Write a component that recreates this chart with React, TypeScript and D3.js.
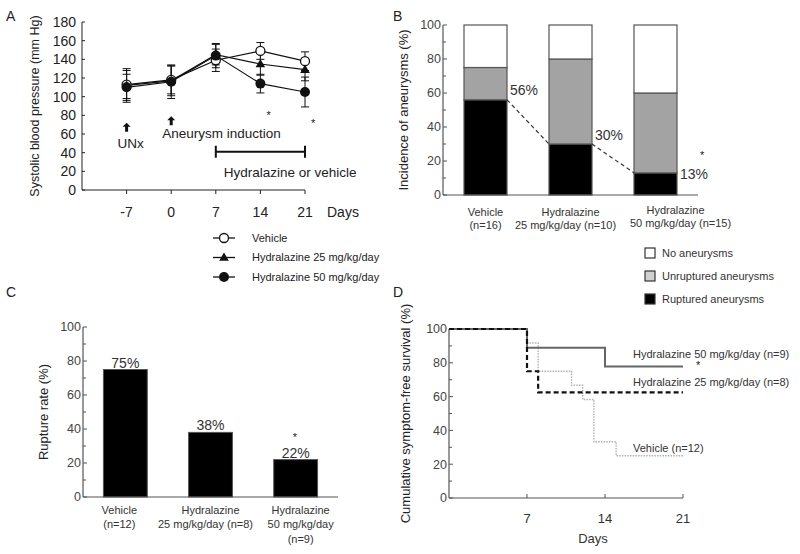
import React from "react";
import * as d3 from "d3";

// Panel A: systolic blood pressure
const bpDays = [-7, 0, 7, 14, 21];
const vehicleBP = [113, 118, 139, 149, 138];
const vehicleSD = [15, 15, 12, 9, 10];
const h25BP = [112, 117, 145, 135, 129];
const h25SD = [18, 16, 11, 12, 12];
const h50BP = [110, 116, 144, 114, 105];
const h50SD = [14, 18, 13, 10, 16];
const bpTicks = [0, 20, 40, 60, 80, 100, 120, 140, 160, 180];
const bpLegend = ["Vehicle", "Hydralazine 25 mg/kg/day", "Hydralazine 50 mg/kg/day"];

// Panel B: incidence of aneurysms
const incGroups = ["veh", "h25", "h50"];
const incLabels = [
  ["Vehicle", "(n=16)"],
  ["Hydralazine", "25 mg/kg/day (n=10)"],
  ["Hydralazine", "50 mg/kg/day (n=15)"],
];
const ruptured = [56, 30, 13];
const unruptured = [19, 50, 47];
const noAneurysm = [25, 20, 40];
const incLegend = ["No aneurysms", "Unruptured aneurysms", "Ruptured aneurysms"];

// Panel C: rupture rate
const rupGroups = ["veh", "h25", "h50"];
const rupLabels = [
  ["Vehicle", "(n=12)"],
  ["Hydralazine", "25 mg/kg/day (n=8)"],
  ["Hydralazine", "50 mg/kg/day", "(n=9)"],
];
const ruptureRate = [75, 38, 22];

// Panel D: symptom-free survival
const vehDays = [0, 7, 8, 11, 12, 13, 15, 21];
const vehSurv = [100, 91.7, 75, 66.7, 58.3, 33.3, 25, 25];
const h25Days = [0, 7, 8, 21];
const h25Surv = [100, 75, 62.5, 62.5];
const h50Days = [0, 7, 14, 21];
const h50Surv = [100, 88.9, 77.8, 77.8];
const survLabels = ["Hydralazine 50 mg/kg/day (n=9)", "Hydralazine 25 mg/kg/day (n=8)", "Vehicle (n=12)"];
const pctTicks = [0, 20, 40, 60, 80, 100];
const pctMinor = [10, 30, 50, 70, 90];

const FONT = "'Liberation Sans', Arial, sans-serif";
const TXT = "#222";

function Arrow({ x, y }: { x: number; y: number }) {
  // small thick upward arrow, tip at (x, y)
  return (
    <path
      d={`M${x},${y} L${x - 4},${y + 4} L${x - 1.5},${y + 4} L${x - 1.5},${y + 9} L${x + 1.5},${y + 9} L${x + 1.5},${y + 4} L${x + 4},${y + 4} Z`}
      fill="#111"
    />
  );
}

function PanelA() {
  const x = d3.scaleLinear().domain([-14, 21]).range([82, 305]);
  const y = d3.scaleLinear().domain([0, 180]).range([190, 22]);
  const line = d3.line<number>().x((_, i) => x(bpDays[i])).y((d) => y(d));
  const series = [
    { v: vehicleBP, sd: vehicleSD, m: "open" },
    { v: h25BP, sd: h25SD, m: "tri" },
    { v: h50BP, sd: h50SD, m: "dot" },
  ];
  const marker = (m: string, cx: number, cy: number, key: any) => {
    if (m === "open") return <circle key={key} cx={cx} cy={cy} r={4.5} fill="#fff" stroke="#111" strokeWidth={1.3} />;
    if (m === "tri") {
      const s = d3.symbol(d3.symbolTriangle, 40)();
      return <path key={key} d={s || ""} transform={`translate(${cx},${cy + 0.5})`} fill="#111" />;
    }
    return <circle key={key} cx={cx} cy={cy} r={5} fill="#111" />;
  };
  return (
    <g fontFamily={FONT} fill={TXT}>
      <text x={6} y={21} fontSize={14}>A</text>
      <text transform={`translate(39,106) rotate(-90)`} textAnchor="middle" fontSize={12.5}>
        Systolic blood pressure (mm Hg)
      </text>
      <line x1={82} x2={82} y1={y(180)} y2={y(0)} stroke="#222" />
      <line x1={82} x2={305} y1={y(0)} y2={y(0)} stroke="#222" />
      {bpTicks.map((t) => (
        <g key={t}>
          <line x1={82} x2={85} y1={y(t)} y2={y(t)} stroke="#222" />
          <text x={76} y={y(t)} dy="0.35em" textAnchor="end" fontSize={14}>{t}</text>
        </g>
      ))}
      {bpDays.map((d) => (
        <g key={d}>
          <line x1={x(d)} x2={x(d)} y1={y(0)} y2={y(0) + 4} stroke="#222" />
          <text x={x(d)} y={217} textAnchor="middle" fontSize={14}>{d}</text>
        </g>
      ))}
      <text x={x(21) + 22} y={217} fontSize={14}>Days</text>
      {series.map((s, si) => (
        <g key={si}>
          {s.v.map((v, i) => (
            <g key={i} stroke="#111" strokeWidth={1}>
              <line x1={x(bpDays[i])} x2={x(bpDays[i])} y1={y(v - s.sd[i])} y2={y(v + s.sd[i])} />
              <line x1={x(bpDays[i]) - 4} x2={x(bpDays[i]) + 4} y1={y(v + s.sd[i])} y2={y(v + s.sd[i])} />
              <line x1={x(bpDays[i]) - 4} x2={x(bpDays[i]) + 4} y1={y(v - s.sd[i])} y2={y(v - s.sd[i])} />
            </g>
          ))}
        </g>
      ))}
      {series.map((s, si) => (
        <path key={si} d={line(s.v) || ""} fill="none" stroke="#111" strokeWidth={1.2} />
      ))}
      {series.map((s, si) => (
        <g key={si}>{s.v.map((v, i) => marker(s.m, x(bpDays[i]), y(v), i))}</g>
      ))}
      <text x={x(14) + 6} y={y(80) + 4} fontSize={11}>*</text>
      <text x={x(21) + 6} y={y(72) + 4} fontSize={11}>*</text>
      <Arrow x={x(-7)} y={y(72)} />
      <text x={x(-7) + 4} y={y(50) + 5} textAnchor="middle" fontSize={13.5}>UNx</text>
      <Arrow x={x(0)} y={y(79)} />
      <text x={x(0) - 9} y={y(61) + 5} fontSize={13.5}>Aneurysm induction</text>
      <g stroke="#111" strokeWidth={2}>
        <line x1={x(7)} x2={x(21)} y1={y(41)} y2={y(41)} />
        <line x1={x(7)} x2={x(7)} y1={y(41) - 6} y2={y(41) + 6} />
        <line x1={x(21)} x2={x(21)} y1={y(41) - 6} y2={y(41) + 6} />
      </g>
      <text x={x(7) + 8} y={y(19) + 5} fontSize={13.5}>Hydralazine or vehicle</text>
      {bpLegend.map((l, i) => {
        const ly = 238 + i * 19.5;
        return (
          <g key={l}>
            <line x1={213} x2={235} y1={ly} y2={ly} stroke="#111" strokeWidth={1.3} />
            {marker(series[i].m, 224, ly, "m")}
            <text x={252} y={ly} dy="0.35em" fontSize={11}>{l}</text>
          </g>
        );
      })}
    </g>
  );
}

function PctAxis({ x0, y, label, lx }: { x0: number; y: d3.ScaleLinear<number, number>; label: string; lx: number }) {
  return (
    <g>
      <line x1={x0} x2={x0} y1={y(100)} y2={y(0)} stroke="#555" strokeWidth={1.2} />
      {pctTicks.map((t) => (
        <g key={t}>
          <line x1={x0} x2={x0 + 4} y1={y(t)} y2={y(t)} stroke="#555" />
          <text x={x0 - 2} y={y(t)} dy="0.35em" textAnchor="end" fontSize={12.5} fill="#444">{t}</text>
        </g>
      ))}
      {pctMinor.map((t) => (
        <line key={t} x1={x0} x2={x0 + 3} y1={y(t)} y2={y(t)} stroke="#555" />
      ))}
      <text transform={`translate(${lx},${(y(0) + y(100)) / 2}) rotate(-90)`} textAnchor="middle" fontSize={13}>
        {label}
      </text>
    </g>
  );
}

function PanelB() {
  const x = d3.scaleBand().domain(incGroups).range([443, 698]).paddingInner(0.494).paddingOuter(0.247);
  const y = d3.scaleLinear().domain([0, 100]).range([195, 25]);
  const rows = incGroups.map((g, i) => ({ g, rup: ruptured[i], unr: unruptured[i], none: noAneurysm[i] }));
  const stack = d3.stack<any>().keys(["rup", "unr", "none"])(rows);
  const fills = ["#000", "#a3a3a3", "#fff"];
  const bw = x.bandwidth();
  const labelDx = [0, 0, 22];
  return (
    <g fontFamily={FONT} fill={TXT}>
      <text x={393} y={21} fontSize={14}>B</text>
      {stack.map((layer, li) =>
        layer.map((d, i) => (
          <rect key={`${li}-${i}`} x={x(incGroups[i])} y={y(d[1])} width={bw} height={y(d[0]) - y(d[1])}
            fill={fills[li]} stroke="#555" strokeWidth={1.2} />
        ))
      )}
      <PctAxis x0={443} y={y} label="Incidence of  aneurysms (%)" lx={408} />
      <line x1={443} x2={698} y1={y(0)} y2={y(0)} stroke="#555" strokeWidth={1.2} />
      <path
        d={`M${x("veh")! + bw},${y(ruptured[0])} L${x("h25")!},${y(ruptured[1])} M${x("h25")! + bw},${y(ruptured[1])} L${x("h50")!},${y(ruptured[2])}`}
        stroke="#333" strokeDasharray="4,3" fill="none" strokeWidth={1.2}
      />
      {ruptured.map((r, i) => {
        const lys = [y(r) - 10, y(r) - 9, y(r) + 1];
        return (
          <text key={i} x={x(incGroups[i])! + bw + 3} y={lys[i]} dy="0.35em" fontSize={14} fill="#333">{r}%</text>
        );
      })}
      <text x={700} y={159} fontSize={11}>*</text>
      {incLabels.map((ls, i) => (
        <g key={i}>
          {ls.map((l, j) => (
            <text key={j} x={x(incGroups[i])! + bw / 2 + (i === 2 ? labelDx[i] - (j === 0 ? 2 : -3) : i === 1 && j === 1 ? -5 : 0)}
              y={212 + j * 13.5 - (i === 2 ? 2 : 0)} dy="0.35em" textAnchor="middle" fontSize={11} fill="#333">{l}</text>
          ))}
        </g>
      ))}
      {incLegend.map((l, i) => {
        const ly = 253 + i * 23;
        return (
          <g key={l}>
            <rect x={645} y={ly - 5} width={10} height={10} fill={["#fff", "#d0d0d0", "#000"][i]} stroke="#333" strokeWidth={1.2} />
            <text x={662} y={ly} dy="0.35em" fontSize={11} fill="#333">{l}</text>
          </g>
        );
      })}
    </g>
  );
}

function PanelC() {
  const x = d3.scaleBand().domain(rupGroups).range([83, 338]).paddingInner(0.485).paddingOuter(0.24);
  const y = d3.scaleLinear().domain([0, 100]).range([497, 327]);
  const bw = x.bandwidth();
  return (
    <g fontFamily={FONT} fill={TXT}>
      <text x={6} y={297} fontSize={14}>C</text>
      {ruptureRate.map((v, i) => (
        <rect key={i} x={x(rupGroups[i])} y={y(v)} width={bw} height={y(0) - y(v)} fill="#000" stroke="#555" />
      ))}
      <PctAxis x0={83} y={y} label="Rupture rate (%)" lx={48} />
      <line x1={83} x2={338} y1={y(0)} y2={y(0)} stroke="#555" strokeWidth={1.2} />
      {ruptureRate.map((v, i) => (
        <text key={i} x={x(rupGroups[i])! + bw / 2} y={y(v) - 2} textAnchor="middle" fontSize={14} fill="#333">{v}%</text>
      ))}
      <text x={x("h50")! + bw / 2 - 3} y={y(22) - 19} fontSize={11}>*</text>
      {rupLabels.map((ls, i) => (
        <g key={i}>
          {ls.map((l, j) => (
            <text key={j} x={x(rupGroups[i])! + bw / 2 + (i === 1 && j === 1 ? -5 : i === 2 ? 5 : 0) - (i === 0 ? 6 : 0)}
              y={510 + j * 14.5} dy="0.35em" textAnchor="middle" fontSize={11} fill="#333">{l}</text>
          ))}
        </g>
      ))}
    </g>
  );
}

function PanelD() {
  const x = d3.scaleLinear().domain([0, 21]).range([449, 683]);
  const y = d3.scaleLinear().domain([0, 100]).range([498, 329]);
  const step = (days: number[], surv: number[]) =>
    d3.line<number>().x((_, i) => x(days[i])).y((d) => y(d)).curve(d3.curveStepAfter)(surv) || "";
  return (
    <g fontFamily={FONT} fill={TXT}>
      <text x={393} y={297} fontSize={14}>D</text>
      <PctAxis x0={449} y={y} label="Cumulative symptom-free survival (%)" lx={410} />
      <line x1={449} x2={683} y1={y(0)} y2={y(0)} stroke="#555" strokeWidth={1.2} />
      {[7, 14, 21].map((t) => (
        <g key={t}>
          <line x1={x(t)} x2={x(t)} y1={y(0)} y2={y(0) - 4} stroke="#555" />
          <text x={x(t)} y={518} dy="0.35em" textAnchor="middle" fontSize={13} fill="#333">{t}</text>
        </g>
      ))}
      <text x={593} y={538} dy="0.35em" textAnchor="middle" fontSize={13} fill="#333">Days</text>
      <path d={step(vehDays, vehSurv)} fill="none" stroke="#b0b0b0" strokeWidth={1.4} strokeDasharray="1.5,1.2" />
      <path d={step(h50Days, h50Surv)} fill="none" stroke="#666" strokeWidth={2} />
      <path d={step(h25Days, h25Surv)} fill="none" stroke="#111" strokeWidth={2.2} strokeDasharray="5,3" />
      <text x={633} y={354} dy="0.35em" fontSize={11} fill="#333">{survLabels[0]}</text>
      <text x={633} y={382} dy="0.35em" fontSize={11} fill="#333">{survLabels[1]}</text>
      <text x={633} y={448} dy="0.35em" fontSize={11} fill="#333">{survLabels[2]}</text>
      <text x={696} y={369} fontSize={11}>*</text>
    </g>
  );
}

export default function App() {
  return (
    <svg width={800} height={554} style={{ position: "absolute", left: 0, top: 0, background: "#fff" }}>
      <rect width={800} height={554} fill="#fff" />
      <PanelA />
      <PanelB />
      <PanelC />
      <PanelD />
    </svg>
  );
}
